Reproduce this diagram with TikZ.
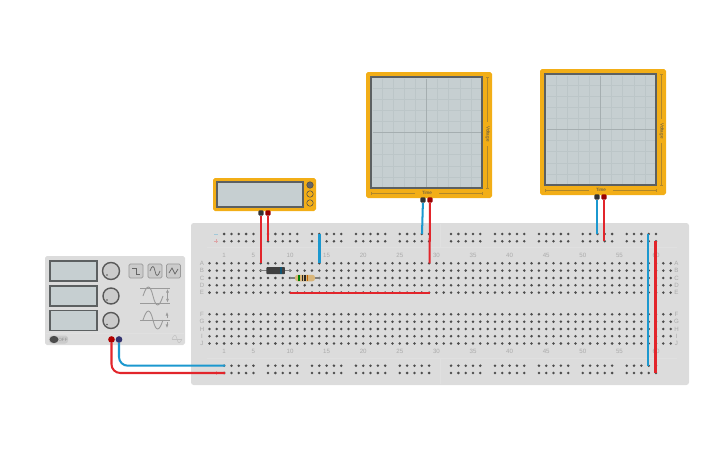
\documentclass[tikz,border=0pt]{standalone}
\usepackage{fontspec}
\usetikzlibrary{arrows.meta}
\setsansfont{Liberation Sans}
\definecolor{boardgray}{HTML}{DCDCDC}
\definecolor{holedark}{HTML}{4C4C4C}
\definecolor{marklabel}{HTML}{ABABAB}
\definecolor{caseorange}{HTML}{F2AE17}
\definecolor{caselabel}{HTML}{B0872A}
\definecolor{screengray}{HTML}{C6CFD1}
\definecolor{screenedge}{HTML}{5C6061}
\definecolor{gridgray}{HTML}{BCC6C8}
\definecolor{wirered}{HTML}{E2252B}
\definecolor{wireblue}{HTML}{1B98CF}
\definecolor{knobgray}{HTML}{CBCBCB}
\definecolor{symbgray}{HTML}{9A9A9A}
\definecolor{resbody}{HTML}{D9B67A}
\tikzset{
  px/.style={x=0.02cm,y=-0.02cm},
  casebox/.style={draw=none,fill=caseorange,rounded corners=1pt,inner sep=0pt},
  screenbox/.style={draw=screenedge,fill=screengray,line width=0.8pt,inner sep=0pt},
  terminalblack/.style={rectangle,rounded corners=0.5pt,fill=black!80,inner sep=0pt,minimum size=2.9pt},
  terminalred/.style={rectangle,rounded corners=0.5pt,fill=red!60!black,inner sep=0pt,minimum size=2.9pt},
  postred/.style={circle,fill=red!70!black,inner sep=0pt,minimum size=3.8pt},
  postblack/.style={circle,fill=black!70!blue!80!white,inner sep=0pt,minimum size=3.8pt},
  redlead/.style={draw=wirered,line width=1.15pt},
  bluelead/.style={draw=wireblue,line width=1.15pt},
  marktext/.style={text=marklabel,font=\sffamily\fontsize{3.5}{3.5}\selectfont,inner sep=0pt},
  casetext/.style={text=black!70,font=\sffamily\fontsize{2.6}{2.6}\selectfont,inner sep=0pt},
  knob/.style={circle,draw=black!65,fill=knobgray,line width=0.8pt,inner sep=0pt},
  wavebutton/.style={draw=black!40,fill=knobgray,rounded corners=0.8pt,line width=0.35pt,minimum size=8pt,inner sep=0pt},
  scopescale/.style={draw=caselabel,line width=0.25pt},
  tinyarrow/.style={symbgray,line width=0.3pt,>={Latex[length=2pt,width=1.6pt]}}
}
\begin{document}
\begin{tikzpicture}[px]
\useasboundingbox (0,0) rectangle (725,453);

%---------------- breadboard ----------------
\node[fill=boardgray,rounded corners=1.5pt,inner sep=0pt,minimum width=498*0.02cm,minimum height=162*0.02cm] (board) at (440,304) {};
\draw[white!88!black,line width=0.3pt] (207,247.5) -- (677,247.5);
\draw[white!88!black,line width=0.3pt] (207,358) -- (677,358);
\draw[white!88!black,line width=0.3pt] (440,224) -- (440,247.5);
\draw[white!88!black,line width=0.3pt] (440,358) -- (440,384);

% main rows
\foreach \y in {263.3,270.6,278,285.3,292.6,314.3,321.7,329,336.2,343.5}
  \foreach \c in {0,...,63}
    \fill[holedark] (209.5+\c*7.32,\y) circle (1.4);

% power rails
\foreach \g in {2,8,14,20,26,33,39,45,51,57}
  \foreach \i in {0,...,4}
    \foreach \y in {234,241.3,365.7,373}
      \fill[holedark] (209.5+\g*7.32+\i*7.32,\y) circle (1.4);

% row and column marks
\foreach \y/\t in {263.3/A,270.6/B,278/C,285.3/D,292.6/E,314.3/F,321.7/G,329/H,336.2/I,343.5/J}{
  \node[marktext] at (202,\y) {\t};
  \node[marktext] at (676.5,\y) {\t};
}
\foreach \c/\t in {2/1,6/5,11/10,16/15,21/20,26/25,31/30,36/35,41/40,46/45,51/50,56/55,61/60}{
  \node[marktext] at (209.5+\c*7.32,255.5) {\t};
  \node[marktext] at (209.5+\c*7.32,351.5) {\t};
}
\draw[wireblue!30!boardgray,line width=0.4pt] (214,234) -- (218,234);
\draw[wirered!30!boardgray,line width=0.4pt] (214,241.3) -- (218,241.3) (216,239.3) -- (216,243.3);
\draw[wireblue!30!boardgray,line width=0.4pt] (214,365.7) -- (218,365.7);
\draw[wirered!30!boardgray,line width=0.4pt] (214,373) -- (218,373) (216,371) -- (216,375);

%---------------- function generator ----------------
\node[fill=boardgray,rounded corners=1pt,inner sep=0pt,minimum width=140*0.02cm,minimum height=89*0.02cm] (fgen) at (115,300.5) {};
\foreach \y/\n in {271/One,296/Two,320.5/Three}
  \node[screenbox,minimum width=47*0.02cm,minimum height=20*0.02cm] (fgen\n) at (73.5,\y) {};
\node[knob,minimum size=17*0.02cm] (knobOne) at (111,271) {};
\node[knob,minimum size=16*0.02cm] (knobTwo) at (111,296) {};
\node[knob,minimum size=16*0.02cm] (knobThree) at (111,320.5) {};
\foreach \k in {knobOne,knobTwo,knobThree}
  \fill[black!65] (\k.center) ++(-4,4) circle (0.8);
\node[wavebutton] (btnSquare) at (136,271) {};
\node[wavebutton] (btnSine) at (155,271) {};
\node[wavebutton] (btnSaw) at (173.5,271) {};
\draw[black!60,line width=0.4pt] (132,268) -- (136,268) -- (136,274) -- (140,274);
\draw[black!60,line width=0.4pt] (150,271) .. controls (152,265) and (154,265) .. (155,271) .. controls (156,277) and (158,277) .. (160,271);
\draw[black!60,line width=0.4pt] (169,273) -- (172,268) -- (175,274) -- (178,269);

% wave symbols
\draw[symbgray,line width=0.3pt] (140,288.5) -- (170,288.5) (140,303) -- (170,303);
\draw[symbgray,line width=0.5pt] (143,296) .. controls (147,284) and (150,284) .. (153,296) .. controls (156,308) and (159,308) .. (163,296);
\draw[tinyarrow,<->] (167.5,289) -- (167.5,302.5);
\draw[symbgray,line width=0.3pt] (140,320) -- (170,320);
\draw[symbgray,line width=0.5pt] (143,320) .. controls (147,308) and (150,308) .. (153,320) .. controls (156,332) and (159,332) .. (163,320);
\draw[tinyarrow,->] (167,318) -- (167,312);
\draw[tinyarrow,->] (167,322) -- (167,328);

% bottom strip
\draw[white!88!black,line width=0.3pt] (46,333.5) -- (184,333.5);
\node[fill=knobgray,rounded corners=1.6pt,inner sep=0pt,minimum width=19*0.02cm,minimum height=8*0.02cm] (toggle) at (58.5,339.5) {};
\fill[black!70] (54,339.5) ellipse (4.5 and 3.6);
\node[casetext,text=black!45] at (63,339.5) {OFF};
\draw[symbgray!60,line width=0.3pt] (172,339) -- (182,339);
\draw[symbgray!60,line width=0.3pt] (172,339) .. controls (174,334) and (176,334) .. (177,339) .. controls (178,344) and (180,344) .. (182,339);
\node[postred] (fgenRed) at (111.5,339.5) {};
\node[postblack] (fgenBlack) at (119,339.5) {};

%---------------- multimeter ----------------
\node[casebox,minimum width=103*0.02cm,minimum height=33*0.02cm] (meter) at (264.5,194.5) {};
\node[screenbox,minimum width=86*0.02cm,minimum height=25*0.02cm] (meterScreen) at (260,194.5) {};
\node[circle,draw=black!70,fill=black!60,line width=0.3pt,minimum size=6.5*0.02cm,inner sep=0pt] (meterA) at (310,185) {};
\node[circle,draw=black!70,line width=0.3pt,minimum size=6.5*0.02cm,inner sep=0pt] (meterV) at (310,194) {};
\node[circle,draw=black!70,line width=0.3pt,minimum size=6.5*0.02cm,inner sep=0pt] (meterR) at (310,203) {};
\node[terminalblack] (meterBlack) at (261,213) {};
\node[terminalred] (meterRed) at (268,213) {};

%---------------- oscilloscopes ----------------
\foreach \n/\cx/\cy in {ScopeA/429/135,ScopeB/603/132}{
  \node[casebox,minimum width=126*0.02cm,minimum height=126*0.02cm] (case\n) at (\cx,\cy) {};
  \node[screenbox,minimum width=111*0.02cm,minimum height=111*0.02cm] (screen\n) at (\cx-2.5,\cy-2.5) {};
  \begin{scope}[shift={(\cx-58,\cy-58)}]
    \foreach \i in {1,...,9}{
      \draw[gridgray,line width=0.25pt] (\i*11.1,1.5) -- (\i*11.1,109.5);
      \draw[gridgray,line width=0.25pt] (1.5,\i*11.1) -- (109.5,\i*11.1);
    }
    \draw[gridgray!88!black,line width=0.55pt] (55.5,1.5) -- (55.5,109.5);
    \draw[gridgray!88!black,line width=0.55pt] (1.5,55.5) -- (109.5,55.5);
    % time and voltage scales
    \draw[scopescale] (0,116.3) -- (44,116.3) (68,116.3) -- (111,116.3);
    \draw[scopescale] (0,115) -- (0,117.6) (111,115) -- (111,117.6);
    \node[casetext] at (56,116.3) {Time};
    \draw[scopescale] (116.7,0) -- (116.7,45) (116.7,69) -- (116.7,111);
    \draw[scopescale] (115.4,0) -- (118,0) (115.4,111) -- (118,111);
    \node[casetext,rotate=-90] at (116.7,57) {Voltage};
  \end{scope}
}
\node[terminalblack] (scopeABlack) at (423,200) {};
\node[terminalred] (scopeARed) at (430,200) {};
\node[terminalblack] (scopeBBlack) at (597,197) {};
\node[terminalred] (scopeBRed) at (604,197) {};

%---------------- diode and resistor ----------------
\coordinate (diodeL) at (260,270.6);
\coordinate (diodeR) at (292,270.6);
\coordinate (resL) at (290,278);
\coordinate (resR) at (320,278);
\draw[black!50,line width=0.6pt] (diodeL) -- (diodeR);
\node[fill=black!75,rounded corners=0.4pt,inner sep=0pt,minimum width=18.5*0.02cm,minimum height=7*0.02cm] (diode) at (275.7,270.6) {};
\fill[black!45!wireblue] (280,267.1) rectangle (281.8,274.1);
\draw[black!50,line width=0.6pt] (resL) -- (resR);
\node[fill=resbody,rounded corners=1.5pt,inner sep=0pt,minimum width=20*0.02cm,minimum height=6.5*0.02cm] (resistor) at (305,278) {};
\fill[green!50!black] (298,274.8) rectangle (299.6,281.2);
\fill[black!85] (301.5,274.8) rectangle (303,281.2);
\fill[black!85] (304,274.8) rectangle (305.5,281.2);
\fill[orange!75!black] (306.5,274.8) rectangle (308,281.2);

%---------------- wires ----------------
\coordinate (railBlueLeft) at (225,365.7);
\coordinate (railRedLeft) at (225,373);
\draw[bluelead,rounded corners=5pt] (fgenBlack) -- (fgenBlack |- railBlueLeft) -- (railBlueLeft);
\draw[redlead,rounded corners=5pt] (fgenRed) -- (fgenRed |- railRedLeft) -- (railRedLeft);

\coordinate (holeMeterBlack) at (261,263.3);
\coordinate (holeMeterRed) at (268,241.3);
\draw[redlead] (meterBlack) -- (holeMeterBlack);
\draw[redlead] (meterRed) -- (holeMeterRed);
\coordinate (holeBlueTop) at (319.5,234);
\coordinate (holeBlueLow) at (319.5,263.3);
\draw[bluelead] (holeBlueTop) -- (holeBlueLow);

\coordinate (holeScopeABlack) at (422,234);
\coordinate (holeScopeARed) at (429.6,263.3);
\draw[bluelead] (scopeABlack) -- (holeScopeABlack);
\draw[redlead] (scopeARed) -- (holeScopeARed);

\coordinate (holeScopeBBlack) at (597,234);
\coordinate (holeScopeBRed) at (604,241.3);
\draw[bluelead] (scopeBBlack) -- (holeScopeBBlack);
\draw[redlead] (scopeBRed) -- (holeScopeBRed);

\coordinate (holeJumpL) at (290,292.6);
\coordinate (holeJumpR) at (429.6,292.6);
\draw[redlead] (holeJumpL) -- (holeJumpR);
\coordinate (railBlueTop) at (648,234);
\coordinate (railBlueLow) at (648,365.7);
\coordinate (railRedTop) at (655.5,241.3);
\coordinate (railRedLow) at (655.5,373);
\draw[bluelead] (railBlueTop) -- (railBlueLow);
\draw[redlead] (railRedTop) -- (railRedLow);
\end{tikzpicture}
\end{document}
